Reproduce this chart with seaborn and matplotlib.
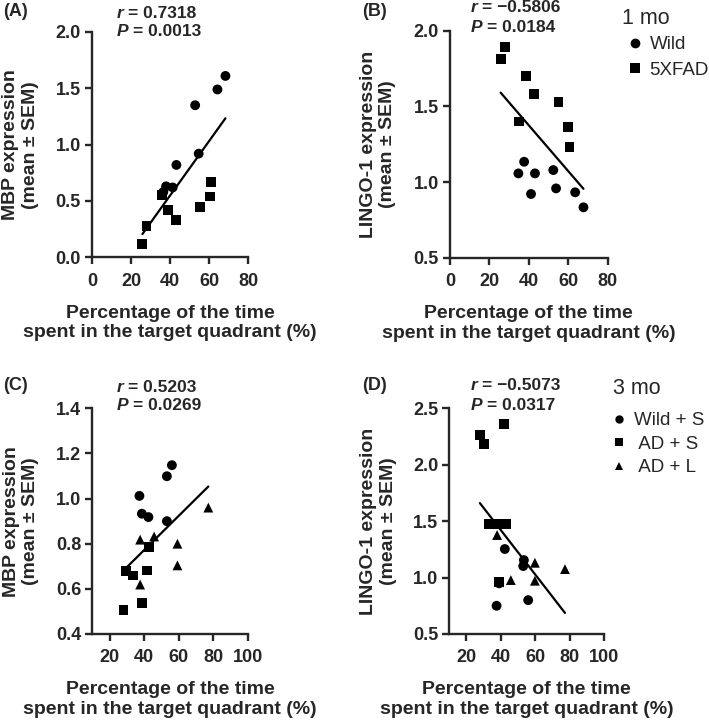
import matplotlib
matplotlib.use("Agg")
import matplotlib.pyplot as plt
import seaborn as sns
import pandas as pd
from matplotlib.ticker import FormatStrFormatter

# (A) MBP vs time in target quadrant, 1 mo
a_wild_x = [68.3, 64.2, 52.8, 54.6, 43.2, 41.3, 37.9, 36.5]
a_wild_y = [1.61, 1.49, 1.35, 0.92, 0.82, 0.62, 0.63, 0.58]
a_fad_x = [25.8, 27.9, 38.7, 43.0, 55.4, 60.2, 61.1, 36.0]
a_fad_y = [0.12, 0.28, 0.42, 0.33, 0.45, 0.54, 0.67, 0.55]

# (B) LINGO-1 vs time, 1 mo
b_wild_x = [37.6, 34.7, 43.1, 52.4, 41.1, 53.8, 63.5, 67.7]
b_wild_y = [1.134, 1.057, 1.057, 1.079, 0.921, 0.958, 0.932, 0.833]
b_fad_x = [25.7, 27.9, 38.6, 42.6, 55.0, 35.2, 59.7, 60.6]
b_fad_y = [1.811, 1.894, 1.70, 1.582, 1.531, 1.40, 1.366, 1.233]

# (C) MBP vs time, 3 mo
c_wild_x = [56.1, 53.2, 37.3, 38.7, 42.5, 53.2]
c_wild_y = [1.148, 1.099, 1.012, 0.933, 0.918, 0.900]
c_ads_x = [42.9, 29.7, 33.5, 41.6, 38.7, 28.1]
c_ads_y = [0.785, 0.678, 0.659, 0.681, 0.538, 0.507]
c_adl_x = [77.2, 37.7, 45.8, 59.3, 59.3, 37.7]
c_adl_y = [0.96, 0.818, 0.832, 0.80, 0.704, 0.619]

# (D) LINGO-1 vs time, 3 mo
d_wild_x = [42.3, 53.4, 53.0, 39.0, 55.9, 37.5]
d_wild_y = [1.253, 1.155, 1.102, 0.949, 0.80, 0.75]
d_ads_x = [41.7, 27.8, 30.1, 33.2, 37.5, 42.9, 38.8]
d_ads_y = [2.358, 2.263, 2.181, 1.472, 1.472, 1.472, 0.963]
d_adl_x = [37.8, 59.8, 77.3, 45.8, 59.8]
d_adl_y = [1.377, 1.131, 1.075, 0.978, 0.972]

stats = {"A": ("0.7318", "0.0013"), "B": ("\u22120.5806", "0.0184"),
         "C": ("0.5203", "0.0269"), "D": ("\u22120.5073", "0.0317")}

W, H = 709, 720
sns.set_style("ticks")
plt.rcParams["font.family"] = ["Liberation Sans", "DejaVu Sans"]
plt.rcParams["font.weight"] = "bold"

fig = plt.figure(figsize=(W / 100, H / 100), dpi=100)


def px_axes(left, top, right, bottom):
    return fig.add_axes([left / W, 1 - bottom / H, (right - left) / W, (bottom - top) / H])


def ftext(x, y, s, **kw):
    fig.text(x / W, 1 - y / H, s, va="center", ha="left", **kw)


def panel(ax, groups, markers, xlim, ylim, xticks, yticks, ylabel, legend):
    frames = []
    for name, xs, ys in groups:
        frames.append(pd.DataFrame({"time": xs, "expr": ys, "group": name}))
    df = pd.concat(frames, ignore_index=True)
    sns.scatterplot(data=df, x="time", y="expr", style="group", markers=markers,
                    color="black", s=50, linewidth=0, ax=ax, legend=legend)
    sns.regplot(data=df, x="time", y="expr", scatter=False, ci=None, color="black",
                line_kws={"lw": 1.6}, ax=ax)
    ax.set_xlim(xlim)
    ax.set_ylim(ylim)
    ax.set_xticks(xticks)
    ax.set_yticks(yticks)
    ax.yaxis.set_major_formatter(FormatStrFormatter("%.1f"))
    sns.despine(ax=ax)
    for sp in ["left", "bottom"]:
        ax.spines[sp].set_linewidth(1.7)
    ax.tick_params(length=5, width=1.7, labelsize=13)
    ax.tick_params(axis="x", pad=6)
    ax.tick_params(axis="y", pad=3)
    for lab in ax.get_xticklabels() + ax.get_yticklabels():
        lab.set_fontweight("bold")
    ax.set_xlabel("Percentage of the time\nspent in the target quadrant (%)",
                  fontsize=14, fontweight="bold", linespacing=1.2)
    ax.set_ylabel(ylabel, fontsize=14, fontweight="bold", linespacing=1.2)
    ax.xaxis.set_label_coords(0.5, -0.21)
    ax.yaxis.set_label_coords(-0.34, 0.5)


axA = px_axes(92, 32, 248.3, 257.3)
panel(axA, [("Wild", a_wild_x, a_wild_y), ("5XFAD", a_fad_x, a_fad_y)],
      {"Wild": "o", "5XFAD": "s"}, (0, 80), (0, 2.0), [0, 20, 40, 60, 80],
      [0, 0.5, 1.0, 1.5, 2.0], "MBP expression\n(mean \u00b1 SEM)", False)

axB = px_axes(450, 30.7, 607.7, 257.7)
panel(axB, [("Wild", b_wild_x, b_wild_y), ("5XFAD", b_fad_x, b_fad_y)],
      {"Wild": "o", "5XFAD": "s"}, (0, 80), (0.5, 2.0), [0, 20, 40, 60, 80],
      [0.5, 1.0, 1.5, 2.0], "LINGO-1 expression\n(mean \u00b1 SEM)", True)

axC = px_axes(92.3, 408.3, 247.7, 634)
panel(axC, [("Wild + S", c_wild_x, c_wild_y), (" AD + S", c_ads_x, c_ads_y),
            (" AD + L", c_adl_x, c_adl_y)],
      {"Wild + S": "o", " AD + S": "s", " AD + L": "^"}, (10, 100), (0.4, 1.4),
      [20, 40, 60, 80, 100], [0.4, 0.6, 0.8, 1.0, 1.2, 1.4],
      "MBP expression\n(mean \u00b1 SEM)", False)

axD = px_axes(449.3, 408.3, 604, 634)
panel(axD, [("Wild + S", d_wild_x, d_wild_y), (" AD + S", d_ads_x, d_ads_y),
            (" AD + L", d_adl_x, d_adl_y)],
      {"Wild + S": "o", " AD + S": "s", " AD + L": "^"}, (10, 100), (0.5, 2.5),
      [20, 40, 60, 80, 100], [0.5, 1.0, 1.5, 2.0, 2.5],
      "LINGO-1 expression\n(mean \u00b1 SEM)", True)

# legends: title as separate text, entries as a plain legend
for ax, title, tx, ty, x, y, ms, sp, fs in [(axB, "1 mo", 622, 18, 629, 36, 7, 0.45, 13.5),
                                            (axD, "3 mo", 613, 388, 613, 412, 6, 0.35, 13.5)]:
    ftext(tx, ty, title, fontsize=15.5, fontweight="normal")
    handles, labels = ax.get_legend_handles_labels()
    for h in handles:
        h.set_markersize(ms)
    ax.legend(handles, labels, loc="upper left",
              bbox_to_anchor=(x / W, 1 - y / H), bbox_transform=fig.transFigure,
              frameon=False, prop={"size": fs, "weight": "normal"},
              handlelength=0.6, handletextpad=0.5, labelspacing=sp,
              borderpad=0, borderaxespad=0)

# panel letters and statistics
for letter, lx, ly, sx, sy in [("A", 3, 12, 117, 13), ("B", 362, 12, 471, 8),
                                ("C", 3, 386, 117, 387), ("D", 362, 386, 471, 386)]:
    ftext(lx, ly, "(" + letter + ")", fontsize=13, fontweight="bold")
    r, p = stats[letter]
    ftext(sx, sy, "r", fontsize=12.5, fontweight="bold", style="italic")
    ftext(sx + 11, sy, "= " + r, fontsize=12.5, fontweight="bold")
    ftext(sx, sy + 19, "P", fontsize=12.5, fontweight="bold", style="italic")
    ftext(sx + 16, sy + 19, "= " + p, fontsize=12.5, fontweight="bold")

fig.savefig("out.png", dpi=100, facecolor="white")
